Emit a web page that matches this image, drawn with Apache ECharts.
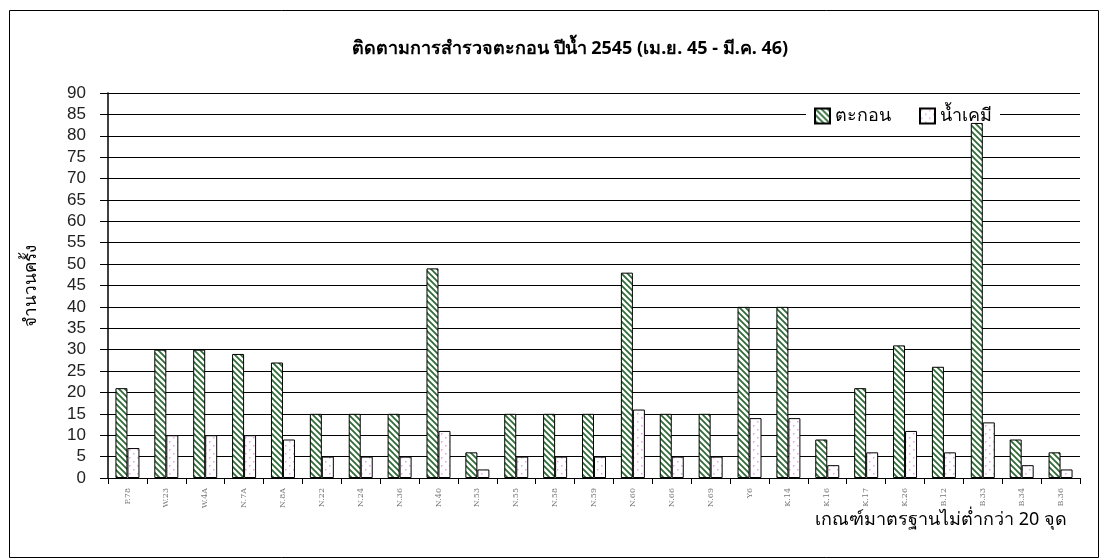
<!DOCTYPE html>
<html><head><meta charset="utf-8">
<script src="https://cdn.jsdelivr.net/npm/echarts@6/dist/echarts.min.js"></script>
<style>html,body{margin:0;padding:0;background:#fff}#c{width:1099px;height:558px}</style>
</head><body><div id="c"></div>
<script>
const categories = ["P.78","W.23","W.4A","N.7A","N.8A","N.22","N.24","N.36","N.40","N.53","N.55","N.58","N.59","N.60","N.66","N.69","Y6","K.14","K.16","K.17","K.26","B.12","B.33","B.34","B.36"];
const sediment = [21,30,30,29,27,15,15,15,49,6,15,15,15,48,15,15,40,40,9,21,31,26,83,9,6];
const chemWater = [7,10,10,10,9,5,5,5,11,2,5,5,5,16,5,5,14,14,3,6,11,6,13,3,2];
const seriesNames = ["ตะกอน","น้ำเคมี"];
const yTicks = {min:0, max:90, interval:5};

function stripePattern(){
  const c = document.createElement('canvas'); c.width = 6; c.height = 6;
  const g = c.getContext('2d');
  g.fillStyle = '#fff'; g.fillRect(0,0,6,6);
  g.strokeStyle = '#2e6b35'; g.lineWidth = 1.8;
  g.beginPath();
  g.moveTo(-3,-3); g.lineTo(9,9);
  g.moveTo(-3,3); g.lineTo(3,9);
  g.moveTo(3,-3); g.lineTo(9,3);
  g.stroke();
  return c;
}
function dotPattern(){
  const c = document.createElement('canvas'); c.width = 8; c.height = 8;
  const g = c.getContext('2d');
  g.fillStyle = '#fff'; g.fillRect(0,0,8,8);
  g.fillStyle = '#e3a6e3';
  g.fillRect(1,1,1.5,1.5); g.fillRect(5,5,1.5,1.5);
  return c;
}
const stripe = {image: stripePattern(), repeat: 'repeat'};
const dots = {image: dotPattern(), repeat: 'repeat'};
const font = 'Noto Sans, DejaVu Sans, Liberation Sans, sans-serif';

const chart = echarts.init(document.getElementById('c'));
chart.setOption({
  animation: false,
  backgroundColor: '#fff',
  textStyle: {fontFamily: font},
  title: {
    text: 'ติดตามการสำรวจตะกอน ปีน้ำ 2545 (เม.ย. 45 - มี.ค. 46)',
    left: 565, top: 35, textAlign: 'center',
    textStyle: {fontSize: 18, fontWeight: 'bold', color: '#000', fontFamily: font}
  },
  legend: {
    data: seriesNames, left: 806, top: 103, itemWidth: 15, itemHeight: 15, itemGap: 28,
    icon: 'rect', backgroundColor: '#fff', padding: [4,8,4,8], z: 1,
    textStyle: {fontSize: 18, color: '#000', fontFamily: font}
  },
  grid: {left: 108, right: 19, top: 93, bottom: 80},
  xAxis: {
    type: 'category', data: categories,
    axisLine: {lineStyle: {color: '#000', width: 1}},
    axisTick: {show: true, length: 6, lineStyle: {color: '#000'}},
    axisLabel: {rotate: 90, fontSize: 8, color: '#777', margin: 10, fontFamily: 'DejaVu Serif, serif'}
  },
  yAxis: {
    type: 'value', min: yTicks.min, max: yTicks.max, interval: yTicks.interval,
    name: 'จำนวนครั้ง', nameLocation: 'middle', nameGap: 68, nameRotate: 90,
    nameTextStyle: {fontSize: 17, color: '#000', fontFamily: font},
    axisLine: {show: true, lineStyle: {color: '#000', width: 1.5}},
    axisTick: {show: true, length: 8, inside: false, lineStyle: {color: '#000'}},
    axisLabel: {fontSize: 17, color: '#222', margin: 22, fontFamily: 'Liberation Sans, Arial, sans-serif'},
    splitLine: {lineStyle: {color: '#000', width: 1}}
  },
  series: [
    {name: seriesNames[0], type: 'bar', data: sediment, barWidth: 12, barGap: '0%', z: 5,
     itemStyle: {color: stripe, borderColor: '#000', borderWidth: 1}},
    {name: seriesNames[1], type: 'bar', data: chemWater, barWidth: 12, barGap: '0%', z: 5,
     itemStyle: {color: dots, borderColor: '#000', borderWidth: 1}}
  ],
  graphic: [
    {type: 'rect', shape: {x: 9.5, y: 10.5, width: 1089, height: 547}, style: {fill: 'none', stroke: '#000', lineWidth: 1}, silent: true},
    {type: 'text', left: 815, top: 511, style: {text: 'เกณฑ์มาตรฐานไม่ต่ำกว่า 20 จุด', fill: '#000', font: '18px ' + font}}
  ]
});
</script></body></html>
